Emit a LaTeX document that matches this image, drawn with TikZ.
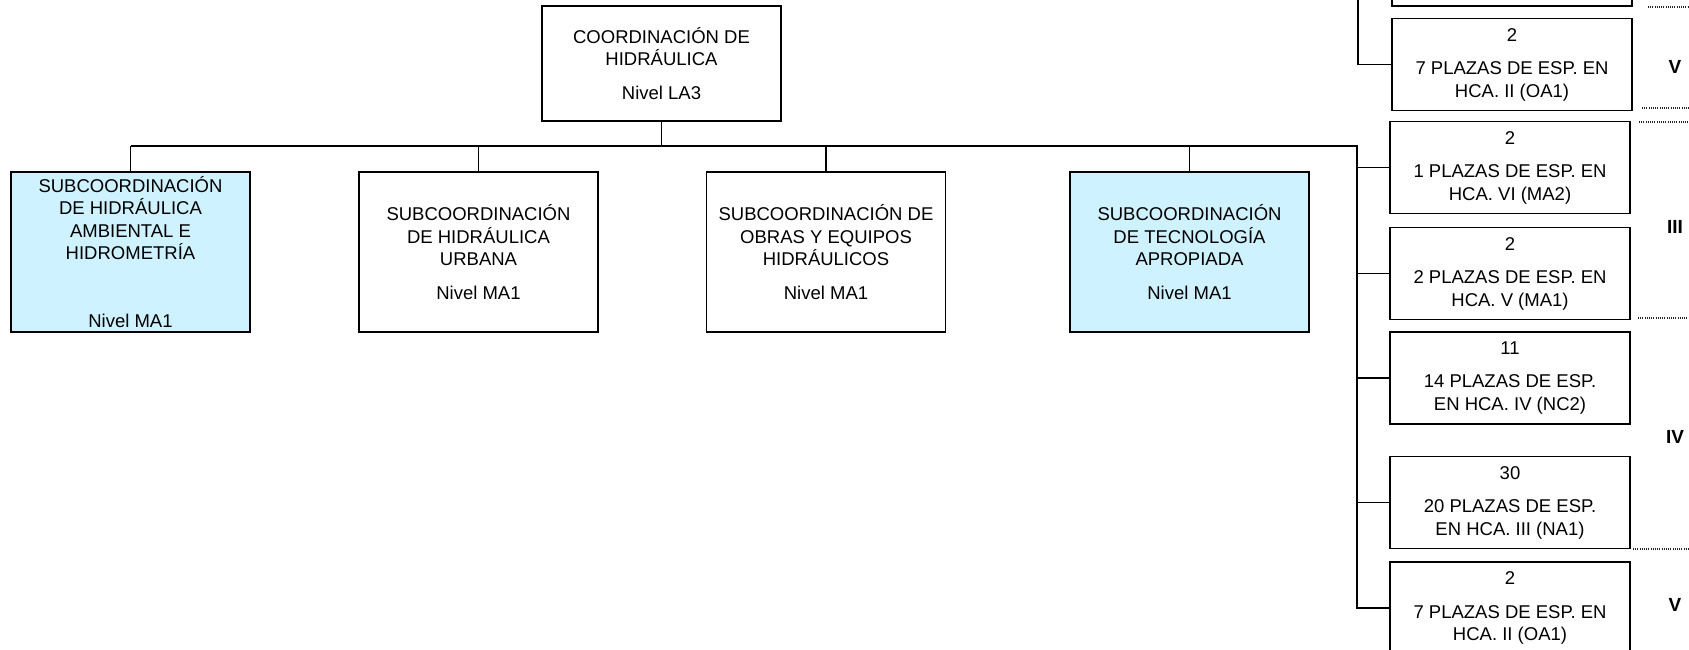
\documentclass[tikz,border=0pt]{standalone}
\usepackage{fontspec}
\setmainfont{Liberation Sans}
\usepackage{xcolor}
\usepackage{tikz}
\usetikzlibrary{positioning, calc}

\definecolor{subblue}{RGB}{206,242,255}

\tikzset{
  unitbox/.style={draw, line width=1.7pt, align=center, inner sep=0pt,
    font=\fontsize{18.5}{22.5}\selectfont},
  subbox/.style={unitbox, minimum width=239pt, minimum height=160pt},
  plazabox/.style={unitbox, minimum width=240pt, minimum height=92pt},
  link/.style={line width=1.4pt},
  levelmark/.style={font=\fontsize{19}{22.5}\selectfont\bfseries, inner sep=0pt},
  sepline/.style={line width=1.2pt, black!85, dash pattern=on 1pt off 1.2pt}
}

\begin{document}
\begin{tikzpicture}[x=1pt, y=-1pt]
      \useasboundingbox (0,0) rectangle (1689,649);
      \clip (0,0) rectangle (1689,649);

      \node[unitbox, minimum width=239pt, minimum height=115pt] (coord) at (661.5,63.5) {COORDINACIÓN DE\\HIDRÁULICA\\[11pt]Nivel LA3};

      \node[subbox, fill=subblue] (subamb) at (130.5,252) {SUBCOORDINACIÓN\\DE HIDRÁULICA\\AMBIENTAL E\\HIDROMETRÍA\\[45pt]Nivel MA1};
      \node[subbox] (suburb) at (478.5,252) {SUBCOORDINACIÓN\\DE HIDRÁULICA\\URBANA\\[11pt]Nivel MA1};
      \node[subbox] (subobr) at (826,252) {SUBCOORDINACIÓN DE\\OBRAS Y EQUIPOS\\HIDRÁULICOS\\[11pt]Nivel MA1};
      \node[subbox, fill=subblue] (subtec) at (1189.5,252) {SUBCOORDINACIÓN\\DE TECNOLOGÍA\\APROPIADA\\[11pt]Nivel MA1};

      \node[plazabox] (plzcut) at (1512,-40) {};
      \node[plazabox] (plzoaA) at (1512,64.5) {2\\[11pt]7 PLAZAS DE ESP. EN\\HCA. II (OA1)};
      \node[plazabox] (plzma2) at (1510,167.5) {2\\[11pt]1 PLAZAS DE ESP. EN\\HCA. VI (MA2)};
      \node[plazabox] (plzma1) at (1510,273.5) {2\\[11pt]2 PLAZAS DE ESP. EN\\HCA. V (MA1)};
      \node[plazabox] (plznc2) at (1510,378) {11\\[11pt]14 PLAZAS DE ESP.\\EN HCA. IV (NC2)};
      \node[plazabox] (plzna1) at (1510,502.5) {30\\[11pt]20 PLAZAS DE ESP.\\EN HCA. III (NA1)};
      \node[plazabox] (plzoaB) at (1510,608) {2\\[11pt]7 PLAZAS DE ESP. EN\\HCA. II (OA1)};

      \node[levelmark] (lvlVa) at (1675,67) {V};
      \node[levelmark] (lvlIII) at (1675,227) {III};
      \node[levelmark] (lvlIV) at (1675,437) {IV};
      \node[levelmark] (lvlVb) at (1675,605) {V};

      % tree connectors
      \coordinate (busL) at (130.5,146);
      \coordinate (busR) at (1357,146);
      \draw[link] (coord.south) -- (coord.south |- busL);
      \draw[link] (busL) -- (busR) |- (plzoaB.west);
      \draw[link] (subamb.north) -- (busL);
      \draw[link] (suburb.north) -- (suburb.north |- busL);
      \draw[link] (subobr.north) -- (subobr.north |- busL);
      \draw[link] (subtec.north) -- (subtec.north |- busL);
      \draw[link] (busR |- plzma2.west) -- (plzma2.west);
      \draw[link] (busR |- plzma1.west) -- (plzma1.west);
      \draw[link] (busR |- plznc2.west) -- (plznc2.west);
      \draw[link] (busR |- plzna1.west) -- (plzna1.west);
      \draw[link] (plzcut.west) -- ++(-33,0) |- (plzoaA.west);

      % level separators
      \draw[sepline] (1648,7) -- (1689,7);
      \draw[sepline] (1642,108) -- (1689,108);
      \draw[sepline] (1639,122) -- (1689,122);
      \draw[sepline] (1638,318) -- (1689,318);
      \draw[sepline] (1633,549) -- (1689,549);
    \end{tikzpicture}
\end{document}
